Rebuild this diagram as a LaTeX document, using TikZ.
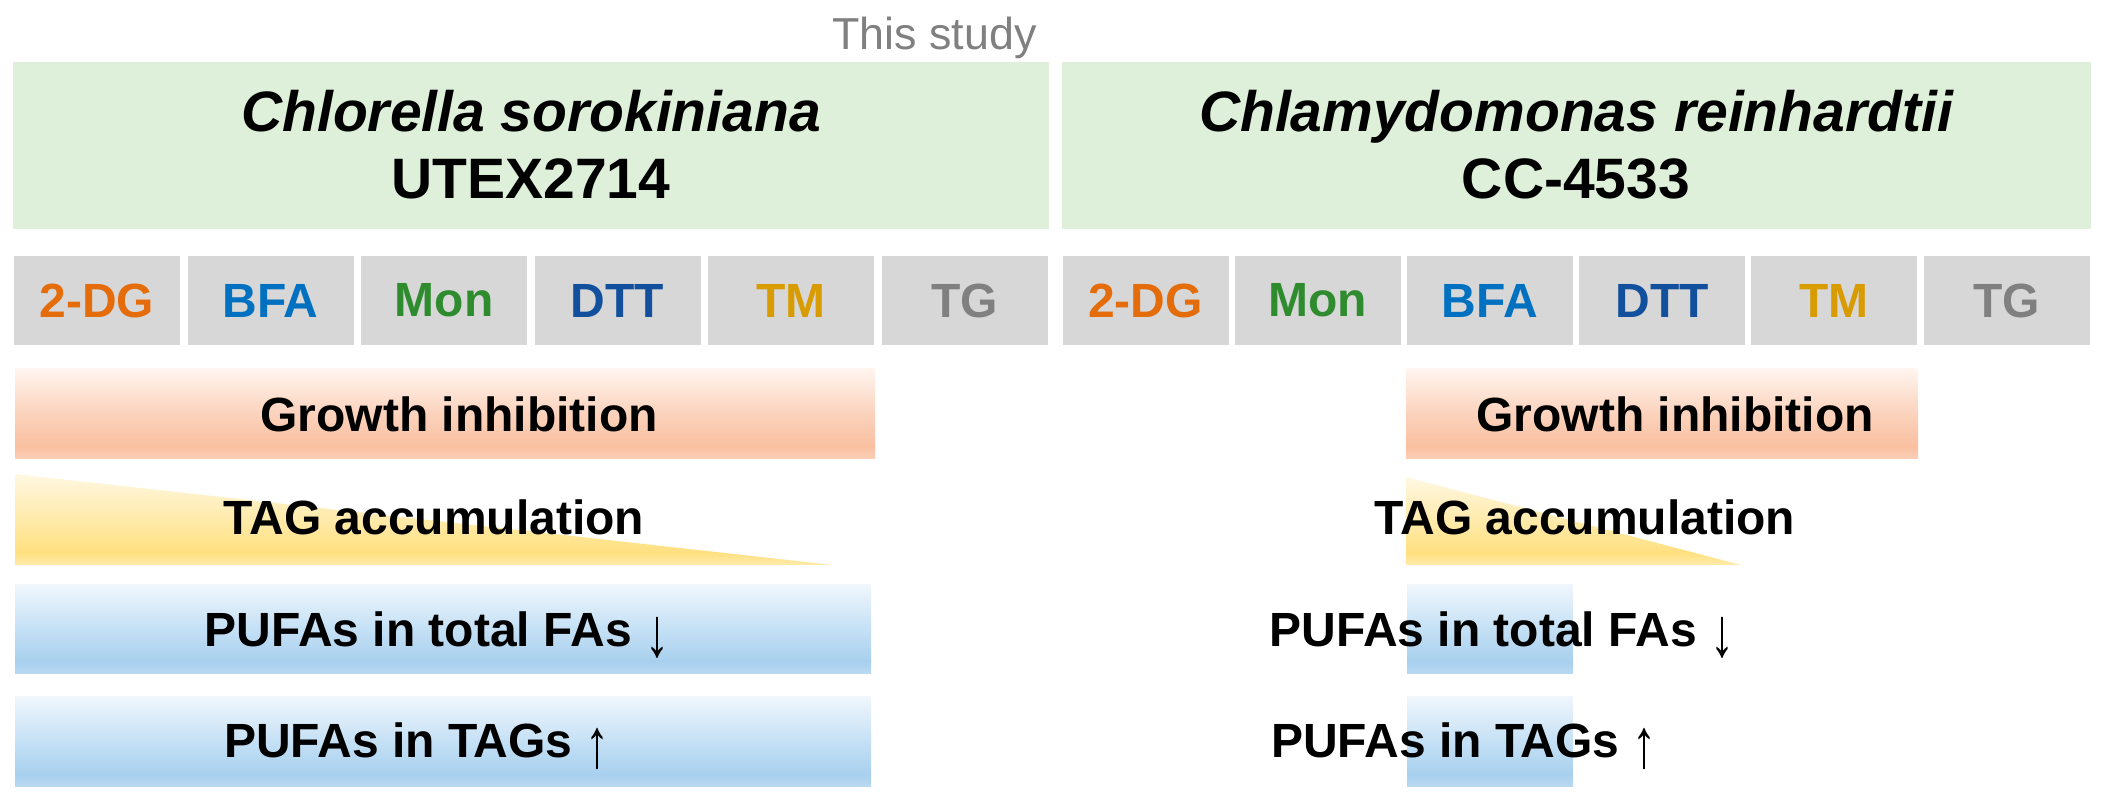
\documentclass[tikz,border=0pt]{standalone}
\usepackage{fontspec}
\usepackage{graphicx}
\setmainfont{Liberation Sans}
\definecolor{boxgreen}{HTML}{DEF0DA}
\definecolor{boxgray}{HTML}{D7D7D7}
\definecolor{c2dg}{HTML}{E46C0A}
\definecolor{cbfa}{HTML}{0070C0}
\definecolor{cmon}{HTML}{2E8B2E}
\definecolor{cdtt}{HTML}{12509E}
\definecolor{ctm}{HTML}{D89B00}
\definecolor{ctg}{HTML}{808080}
\pgfdeclareverticalshading{growthsh}{100bp}{color(0bp)=(white); color(25bp)=(rgb,255:red,251;green,207;blue,183); color(32bp)=(rgb,255:red,249;green,192;blue,160); color(50bp)=(rgb,255:red,251;green,210;blue,188); color(75bp)=(rgb,255:red,255;green,245;blue,239); color(100bp)=(white)}
\pgfdeclareverticalshading{tagsh}{100bp}{color(0bp)=(white); color(25bp)=(rgb,255:red,255;green,234;blue,170); color(32bp)=(rgb,255:red,255;green,224;blue,128); color(50bp)=(rgb,255:red,255;green,234;blue,170); color(75bp)=(rgb,255:red,255;green,248;blue,226); color(100bp)=(white)}
\pgfdeclareverticalshading{pufash}{100bp}{color(0bp)=(white); color(25bp)=(rgb,255:red,186;green,217;blue,242); color(32bp)=(rgb,255:red,168;green,208;blue,238); color(50bp)=(rgb,255:red,196;green,224;blue,245); color(75bp)=(rgb,255:red,240;green,246;blue,252); color(100bp)=(white)}
\tikzset{
  trtbox/.style={fill=boxgray, minimum width=83pt, minimum height=44.5pt, inner sep=0pt,
    font=\fontsize{24pt}{28pt}\selectfont\bfseries},
  rowtxt/.style={anchor=base, inner sep=0pt, font=\fontsize{24pt}{28pt}\selectfont\bfseries},
  titletxt/.style={anchor=base, inner sep=0pt, font=\fontsize{28.5pt}{32pt}\selectfont\bfseries}
}
\newcommand{\thinarrow}[1]{\raisebox{-5pt}{\scalebox{1}[1.45]{\mdseries #1}}}
\begin{document}
\begin{tikzpicture}[x=0.5pt,y=-0.5pt]
\useasboundingbox (0,0) rectangle (2106,806);
% top label
\node[anchor=base east, inner sep=0pt, text=ctg, font=\fontsize{22.4pt}{26pt}\selectfont] (study) at (1037,50) {This study};
% green boxes
\fill[boxgreen] (13,62) rectangle (1049,229);
\fill[boxgreen] (1062,62) rectangle (2091,229);
\node[titletxt] (sp1) at (531,132) {\itshape Chlorella sorokiniana};
\node[titletxt] (st1) at (531,199) {UTEX2714};
\node[titletxt] (sp2) at (1576,132) {\itshape Chlamydomonas reinhardtii};
\node[titletxt] (st2) at (1576,199) {CC-4533};
% treatment boxes left
\node[trtbox, text=c2dg] (la) at (97,300.5) {2-DG};
\node[trtbox, text=cbfa] (lb) at (270.5,300.5) {BFA};
\node[trtbox, text=cmon] (lc) at (444,300.5) {Mon};
\node[trtbox, text=cdtt] (ld) at (617.5,300.5) {DTT};
\node[trtbox, text=ctm] (le) at (791,300.5) {TM};
\node[trtbox, text=ctg] (lf) at (964.5,300.5) {TG};
% treatment boxes right
\node[trtbox, text=c2dg] (ra) at (1145.5,300.5) {2-DG};
\node[trtbox, text=cmon] (rb) at (1317.7,300.5) {Mon};
\node[trtbox, text=cbfa] (rc) at (1489.9,300.5) {BFA};
\node[trtbox, text=cdtt] (rd) at (1662.1,300.5) {DTT};
\node[trtbox, text=ctm] (re) at (1834.3,300.5) {TM};
\node[trtbox, text=ctg] (rf) at (2006.5,300.5) {TG};
% growth inhibition
\shade[shading=growthsh] (15,369) rectangle (875,459);
\shade[shading=growthsh] (1406,369) rectangle (1918,459);
% TAG accumulation
\shade[shading=tagsh] (15,474) -- (15,565) -- (833,565) -- cycle;
\shade[shading=tagsh] (1406,477) -- (1406,565) -- (1741,565) -- cycle;
% PUFA boxes
\shade[shading=pufash] (15,585) rectangle (871,674);
\shade[shading=pufash] (15,697) rectangle (871,787);
\shade[shading=pufash] (1407,585) rectangle (1573,674);
\shade[shading=pufash] (1407,697) rectangle (1573,787);
% row texts
\node[rowtxt] (g1) at (459,432) {Growth inhibition};
\node[rowtxt] (g2) at (1675,432) {Growth inhibition};
\node[rowtxt] (t1) at (434,535) {TAG accumulation};
\node[rowtxt] (t2) at (1585,535) {TAG accumulation};
\node[rowtxt] (p1) at (437,647) {PUFAs in total FAs \thinarrow{↓}};
\node[rowtxt] (p2) at (1502,647) {PUFAs in total FAs \thinarrow{↓}};
\node[rowtxt] (q1) at (417,758) {PUFAs in TAGs \thinarrow{↑}};
\node[rowtxt] (q2) at (1464,758) {PUFAs in TAGs \thinarrow{↑}};
\end{tikzpicture}
\end{document}
